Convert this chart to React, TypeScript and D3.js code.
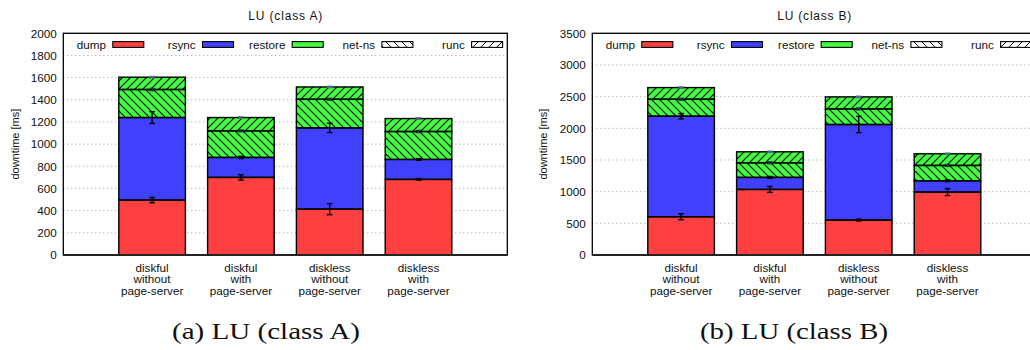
import React from 'react';
import * as d3 from 'd3';

// ---------- data ----------
const categories: string[][] = [
  ['diskful', 'without', 'page-server'],
  ['diskful', 'with', 'page-server'],
  ['diskless', 'without', 'page-server'],
  ['diskless', 'with', 'page-server'],
];
const legendNames = ['dump', 'rsync', 'restore', 'net-ns', 'runc'];

// class A
const dumpA = [495, 700, 414, 682];
const rsyncA = [745, 180, 733, 180];
const restoreA = [364, 360, 369, 369];
const netnsA = [253, 240, 258, 252];
const runcA = [111, 120, 111, 117];
const dumpErrA = [24, 24, 50, 8];
const rsyncErrA = [53, 10, 42, 8];
const netnsErrA = [10, 8, 8, 10];
const runcErrA = [6, 6, 6, 6];
const ticksA = [0, 200, 400, 600, 800, 1000, 1200, 1400, 1600, 1800, 2000];

// class B
const dumpB = [604, 1035, 552, 993];
const rsyncB = [1587, 190, 1508, 179];
const restoreB = [452, 404, 436, 426];
const netnsB = [268, 231, 247, 242];
const runcB = [184, 173, 189, 184];
const dumpErrB = [47, 47, 15, 55];
const rsyncErrB = [42, 15, 128, 15];
const netnsErrB = [15, 15, 15, 15];
const runcErrB = [10, 10, 10, 10];
const ticksB = [0, 500, 1000, 1500, 2000, 2500, 3000, 3500];

const COLORS = { dump: '#ff4040', rsync: '#4040ff', restore: '#40ff40' };
const FONT = 'Liberation Sans, Arial, Helvetica, sans-serif';

type PanelProps = {
  left: number;
  title: string;
  caption: string;
  captionX: number;
  ylabelX: number;
  yMax: number;
  ticks: number[];
  dump: number[];
  rsync: number[];
  restore: number[];
  netns: number[];
  runc: number[];
  dumpErr: number[];
  rsyncErr: number[];
  netnsErr: number[];
  runcErr: number[];
  id: string;
};

function Panel(p: PanelProps) {
  const top = 33.3;
  const bottom = 255;
  const width = 444;
  const x = d3.scaleLinear().domain([-1, 4]).range([p.left, p.left + width]);
  const y = d3.scaleLinear().domain([0, p.yMax]).range([bottom, top]);
  const bw = x(0.375) - x(0);

  const rows = categories.map((_, i) => ({
    dump: p.dump[i],
    rsync: p.rsync[i],
    restore: p.restore[i],
  }));
  const stack = d3.stack<any>().keys(['dump', 'rsync', 'restore'])(rows);

  const errs: { i: number; v: number; e: number; c: string }[] = [];
  categories.forEach((_, i) => {
    const a = p.dump[i];
    const b = a + p.rsync[i];
    const c = b + p.netns[i];
    const d = c + p.runc[i];
    errs.push({ i, v: a, e: p.dumpErr[i], c: '#000' });
    errs.push({ i, v: b, e: p.rsyncErr[i], c: '#000' });
    errs.push({ i, v: c, e: p.netnsErr[i], c: '#223344' });
    errs.push({ i, v: d, e: p.runcErr[i], c: '#4a7090' });
  });

  const legendStep = 89.7;
  return (
    <g>
      {/* grid */}
      {p.ticks.map((t) => (
        <line
          key={'g' + t}
          x1={p.left}
          x2={p.left + width}
          y1={y(t)}
          y2={y(t)}
          stroke="#9a9a9a"
          strokeWidth={1}
          strokeDasharray="1,3"
        />
      ))}
      {/* bars */}
      {stack.map((s) =>
        s.map((d, i) => (
          <rect
            key={s.key + i}
            x={x(i) - bw}
            width={2 * bw}
            y={y(d[1])}
            height={y(d[0]) - y(d[1])}
            fill={(COLORS as any)[s.key]}
          />
        ))
      )}
      {/* hatch overlays */}
      {categories.map((_, i) => {
        const base = p.dump[i] + p.rsync[i];
        return (
          <g key={'h' + i}>
            <rect
              x={x(i) - bw}
              width={2 * bw}
              y={y(base + p.netns[i])}
              height={y(base) - y(base + p.netns[i])}
              fill={`url(#back-${p.id})`}
            />
            <rect
              x={x(i) - bw}
              width={2 * bw}
              y={y(base + p.netns[i] + p.runc[i])}
              height={y(base + p.netns[i]) - y(base + p.netns[i] + p.runc[i])}
              fill={`url(#fwd-${p.id})`}
            />
          </g>
        );
      })}
      {/* outlines */}
      {categories.map((_, i) => {
        const levels = [
          0,
          p.dump[i],
          p.dump[i] + p.rsync[i],
          p.dump[i] + p.rsync[i] + p.netns[i],
          p.dump[i] + p.rsync[i] + p.netns[i] + p.runc[i],
        ];
        return (
          <g key={'o' + i}>
            {levels.slice(1).map((lv, k) => (
              <rect
                key={k}
                x={x(i) - bw}
                width={2 * bw}
                y={y(lv)}
                height={y(levels[k]) - y(lv)}
                fill="none"
                stroke="#000"
                strokeWidth={1.4}
              />
            ))}
          </g>
        );
      })}
      {/* error bars */}
      {errs.map((e, k) => {
        const cx = x(e.i);
        const y1 = y(e.v + e.e);
        const y2 = y(e.v - e.e);
        return (
          <g key={'e' + k} stroke={e.c} strokeWidth={1.4}>
            <line x1={cx} x2={cx} y1={y1} y2={y2} />
            <line x1={cx - 2.8} x2={cx + 2.8} y1={y1} y2={y1} />
            <line x1={cx - 2.8} x2={cx + 2.8} y1={y2} y2={y2} />
          </g>
        );
      })}
      {/* frame */}
      <rect
        x={p.left}
        y={top}
        width={width}
        height={bottom - top}
        fill="none"
        stroke="#000"
        strokeWidth={1.3}
      />
      <line x1={p.left} x2={p.left + width} y1={bottom} y2={bottom} stroke="#222" strokeWidth={2} />
      {/* y ticks */}
      {p.ticks.map((t) => (
        <text
          key={'t' + t}
          x={p.left - 6.6}
          y={y(t) + 4.2}
          textAnchor="end"
          fontSize={11.7}
          fontFamily={FONT}
          fill="#111"
        >
          {t}
        </text>
      ))}
      {/* x labels */}
      {categories.map((lines, i) => (
        <text
          key={'x' + i}
          textAnchor="middle"
          fontSize={11.7}
          fontFamily={FONT}
          fill="#111"
        >
          {lines.map((l, k) => (
            <tspan key={k} x={x(i)} y={271.5 + k * 11.5}>
              {l}
            </tspan>
          ))}
        </text>
      ))}
      {/* legend */}
      {legendNames.map((n, k) => {
        const sx = p.left + 49.5 + k * legendStep;
        const fill =
          k === 0
            ? COLORS.dump
            : k === 1
            ? COLORS.rsync
            : k === 2
            ? COLORS.restore
            : k === 3
            ? `url(#lback-${p.id})`
            : `url(#lfwd-${p.id})`;
        return (
          <g key={'l' + n}>
            <text
              x={sx - 6.8}
              y={49}
              textAnchor="end"
              fontSize={11.7}
              fontFamily={FONT}
              fill="#111"
            >
              {n}
            </text>
            <rect x={sx} y={41.6} width={31} height={5.8} fill={fill} stroke="#000" strokeWidth={1.1} />
          </g>
        );
      })}
      {/* title */}
      <text
        x={p.left + width / 2}
        y={19.5}
        textAnchor="middle"
        fontSize={12}
        fontFamily={FONT}
        textLength={74}
        fill="#111"
      >
        {p.title}
      </text>
      {/* y label */}
      <text
        transform={`translate(${p.ylabelX + 8},${(top + bottom) / 2}) rotate(-90)`}
        textAnchor="middle"
        fontSize={11}
        fontFamily={FONT}
        fill="#111"
      >
        downtime [ms]
      </text>
      {/* caption */}
      <text
        x={p.captionX}
        y={338.5}
        textAnchor="middle"
        fontSize={22.5}
        fontFamily="Liberation Serif, Times New Roman, serif"
        textLength={188}
        lengthAdjust="spacingAndGlyphs"
        fill="#111"
      >
        {p.caption}
      </text>
    </g>
  );
}

function Patterns({ id }: { id: string }) {
  return (
    <>
      <pattern id={`back-${id}`} patternUnits="userSpaceOnUse" width={8} height={8}>
        <path d="M-2,6 L2,10 M0,0 L8,8 M6,-2 L10,2" stroke="#000" strokeWidth={1.1} />
      </pattern>
      <pattern id={`fwd-${id}`} patternUnits="userSpaceOnUse" width={8} height={8}>
        <path d="M-2,2 L2,-2 M0,8 L8,0 M6,10 L10,6" stroke="#000" strokeWidth={1.1} />
      </pattern>
      <pattern id={`lback-${id}`} patternUnits="userSpaceOnUse" width={8} height={8}>
        <rect width={8} height={8} fill="#fff" />
        <path d="M-2,6 L2,10 M0,0 L8,8 M6,-2 L10,2" stroke="#000" strokeWidth={1} />
      </pattern>
      <pattern id={`lfwd-${id}`} patternUnits="userSpaceOnUse" width={8} height={8}>
        <rect width={8} height={8} fill="#fff" />
        <path d="M-2,2 L2,-2 M0,8 L8,0 M6,10 L10,6" stroke="#000" strokeWidth={1} />
      </pattern>
    </>
  );
}

export default function App() {
  return (
    <svg
      width={1030}
      height={350}
      style={{ position: 'absolute', left: 0, top: 0, background: '#fff' }}
    >
      <defs>
        <Patterns id="a" />
        <Patterns id="b" />
      </defs>
      <rect width={1030} height={350} fill="#fff" />
      <Panel
        id="a"
        left={63.3}
        title="LU (class A)"
        caption="(a) LU (class A)"
        captionX={266}
        ylabelX={11}
        yMax={2000}
        ticks={ticksA}
        dump={dumpA}
        rsync={rsyncA}
        restore={restoreA}
        netns={netnsA}
        runc={runcA}
        dumpErr={dumpErrA}
        rsyncErr={rsyncErrA}
        netnsErr={netnsErrA}
        runcErr={runcErrA}
      />
      <Panel
        id="b"
        left={592.3}
        title="LU (class B)"
        caption="(b) LU (class B)"
        captionX={794}
        ylabelX={539}
        yMax={3500}
        ticks={ticksB}
        dump={dumpB}
        rsync={rsyncB}
        restore={restoreB}
        netns={netnsB}
        runc={runcB}
        dumpErr={dumpErrB}
        rsyncErr={rsyncErrB}
        netnsErr={netnsErrB}
        runcErr={runcErrB}
      />
    </svg>
  );
}
